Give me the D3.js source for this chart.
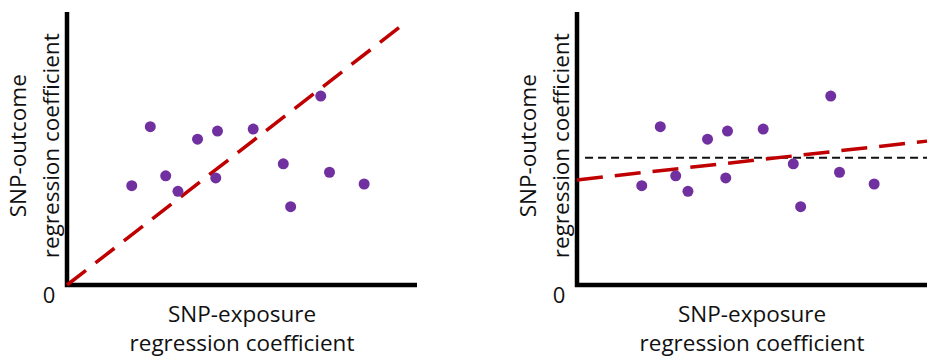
<!DOCTYPE html>
<html>
<head>
<meta charset="utf-8">
<script src="https://cdn.jsdelivr.net/npm/d3@7"></script>
<style>
  body { margin: 0; background: #fff; }
  text { font-family: "Open Sans", sans-serif; fill: #111; }
</style>
</head>
<body>
<div id="chart"></div>
<script>
// SNP estimates (same points in both panels)
const snpExposure = [1.85, 2.38, 2.82, 3.17, 3.73, 4.30, 4.25, 5.32, 6.18, 6.39, 7.25, 7.50, 8.49];
const snpOutcome  = [3.64, 5.80, 4.00, 3.43, 5.34, 5.64, 3.92, 5.71, 4.44, 2.87, 6.92, 4.13, 3.70];

// fitted lines, as [x, y] end points in data units
const ivwLine   = [[0, 0], [9.56, 9.5]];
const eggerLine = [[0, 3.85], [10, 5.27]];
const nullLine  = [[0.23, 4.66], [10, 4.66]];

const xTitle = ["SNP-exposure", "regression coefficient"];
const yTitle = ["SNP-outcome", "regression coefficient"];
const originLabel = "0";

const width = 931, height = 360;
const panelW = 350, plotTop = 12, plotBottom = 285;

const svg = d3.select("#chart")
    .append("svg")
    .attr("width", width)
    .attr("height", height);

const y = d3.scaleLinear().domain([0, 10]).range([plotBottom, plotTop]);

const panels = [
    {left: 67, lines: [{pts: ivwLine, color: "#c00000", w: 3.5, dash: "24,12"}]},
    {left: 577, lines: [
        {pts: nullLine, color: "#111", w: 2, dash: "8,5"},
        {pts: eggerLine, color: "#c00000", w: 3.5, dash: "26,12"}]}
];

const data = snpExposure.map((d, i) => ({x: d, y: snpOutcome[i]}));

panels.forEach(p => {
    const x = d3.scaleLinear().domain([0, 10]).range([p.left, p.left + panelW]);
    const g = svg.append("g");

    // axes as an L shape
    g.append("path")
        .attr("d", `M${x(0)},${y(10)}L${x(0)},${y(0)}L${x(10)},${y(0)}`)
        .attr("fill", "none")
        .attr("stroke", "#000")
        .attr("stroke-width", 4.5);

    const line = d3.line().x(d => x(d[0])).y(d => y(d[1]));
    p.lines.forEach(l => {
        g.append("path")
            .attr("d", line(l.pts))
            .attr("fill", "none")
            .attr("stroke", l.color)
            .attr("stroke-width", l.w)
            .attr("stroke-dasharray", l.dash);
    });

    g.selectAll("circle")
        .data(data)
        .join("circle")
        .attr("cx", d => x(d.x))
        .attr("cy", d => y(d.y))
        .attr("r", 5.5)
        .attr("fill", "#7030a0");

    g.append("text")
        .attr("x", x(0) - 18)
        .attr("y", y(0) + 18)
        .attr("text-anchor", "middle")
        .attr("font-size", 22)
        .text(originLabel);

    g.selectAll(".xt")
        .data(xTitle)
        .join("text")
        .attr("x", x(5))
        .attr("y", (d, i) => 322 + i * 29)
        .attr("text-anchor", "middle")
        .attr("font-size", 22.5)
        .text(d => d);

    g.selectAll(".yt")
        .data(yTitle)
        .join("text")
        .attr("transform", (d, i) => `translate(${x(0) - 41 + i * 33},${y(5.1)}) rotate(-90)`)
        .attr("text-anchor", "middle")
        .attr("font-size", 22.5)
        .text(d => d);
});
</script>
</body>
</html>
